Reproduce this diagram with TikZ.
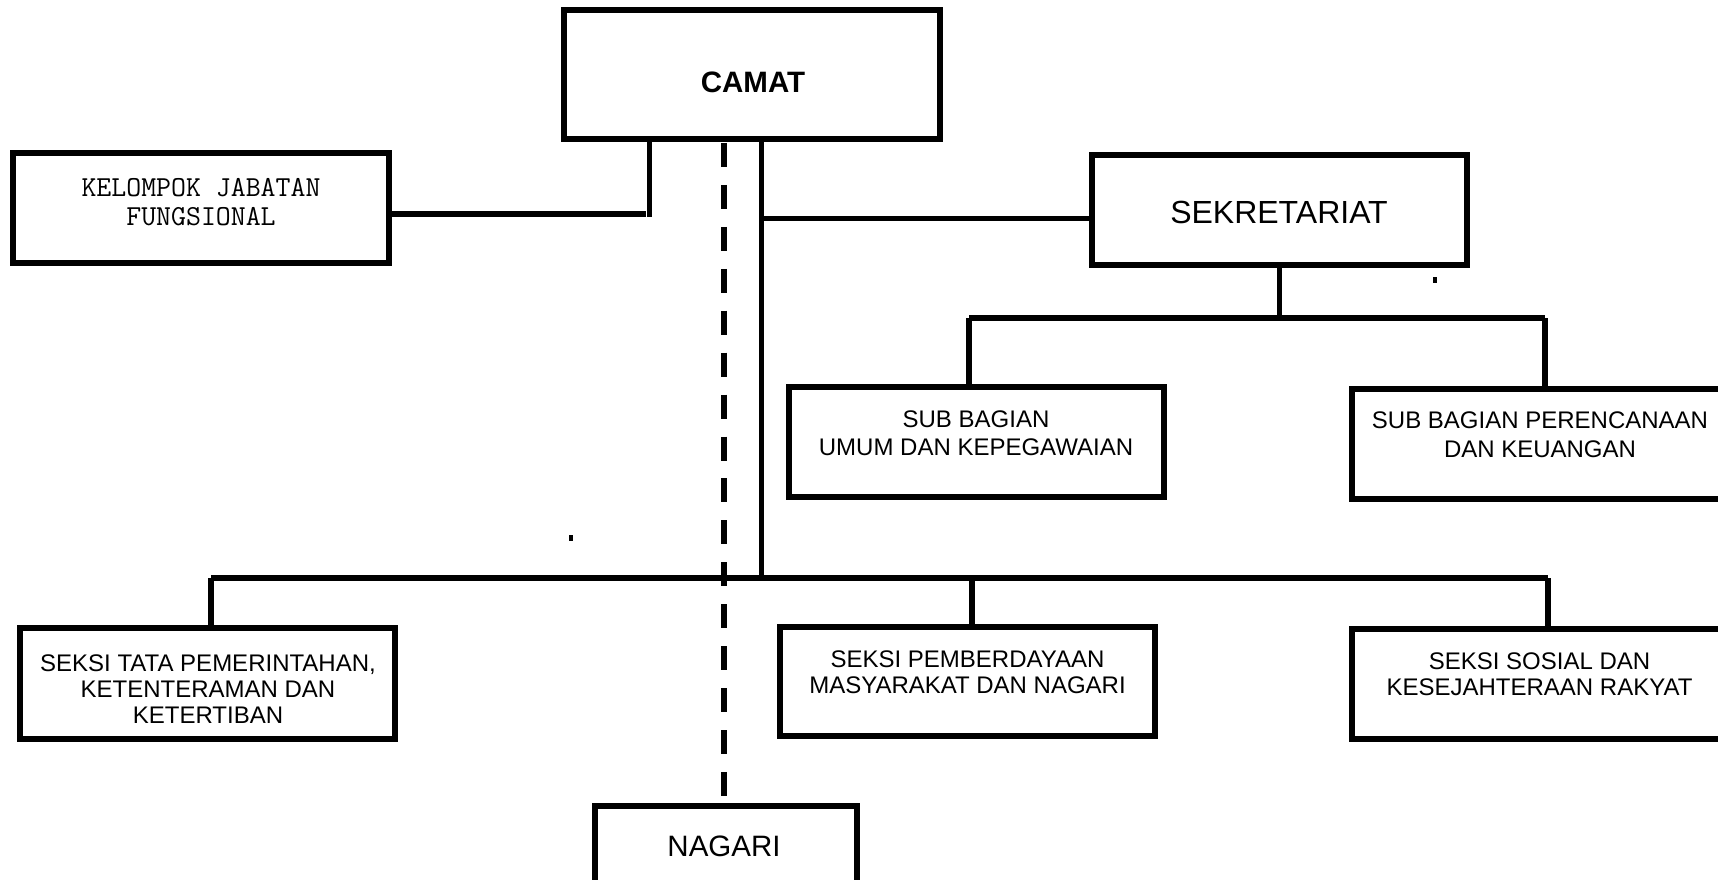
\documentclass[tikz,border=0pt]{standalone}
\usepackage{fontspec}
\setmainfont{Liberation Sans}
\begin{document}
\begin{tikzpicture}[x=1pt,y=-1pt,
  box/.style={draw,line width=6pt,rectangle,inner sep=0pt},
  txt/.style={align=center,inner sep=0pt,font=\fontsize{24}{28}\selectfont},
  conn/.style={line width=5.5pt},
  thin/.style={line width=5pt},
  busline/.style={line width=6.5pt},
  dashline/.style={line width=6pt,dash pattern=on 24pt off 17.93pt}]
\clip (0,0) rectangle (1718,880);
\fill[white] (0,0) rectangle (1718,880);
% boxes
\node[box,minimum width=376pt,minimum height=129pt] (camat) at (752,74.5) {};
\node[box,minimum width=376pt,minimum height=110pt] (kel) at (201,208) {};
\node[box,minimum width=375pt,minimum height=110pt] (sek) at (1279.5,210) {};
\node[box,minimum width=375pt,minimum height=110pt] (sbu) at (976.5,442) {};
\node[box,minimum width=376pt,minimum height=110pt] (sbp) at (1540,444) {};
\node[box,minimum width=375pt,minimum height=111pt] (tata) at (207.5,683.5) {};
\node[box,minimum width=375pt,minimum height=109pt] (pemb) at (967.5,681.5) {};
\node[box,minimum width=376pt,minimum height=110pt] (sos) at (1540,684) {};
\node[box,minimum width=262pt,minimum height=90pt] (nag) at (725.5,851) {};
% texts
\node[txt,font=\bfseries\fontsize{29.5}{34}\selectfont] (tcamat) at (753,82) {CAMAT};
\node[txt,font=\ttfamily\fontsize{29}{29.5}\selectfont] (tkel) at (201,202) {KELOMPOK JABATAN\\FUNGSIONAL};
\node[txt,font=\fontsize{32}{36}\selectfont] (tsek) at (1279,212.5) {SEKRETARIAT};
\node[txt,font=\fontsize{24}{28.5}\selectfont] (tsbu) at (976,433) {SUB BAGIAN\\UMUM DAN KEPEGAWAIAN};
\node[txt,font=\fontsize{24}{28.5}\selectfont] (tsbp) at (1540,434.5) {SUB BAGIAN PERENCANAAN\\DAN KEUANGAN};
\node[txt,font=\fontsize{24}{26}\selectfont] (ttata) at (208,689) {SEKSI TATA PEMERINTAHAN,\\KETENTERAMAN DAN\\KETERTIBAN};
\node[txt,font=\fontsize{24}{26}\selectfont] (tpemb) at (967.5,672) {SEKSI PEMBERDAYAAN\\MASYARAKAT DAN NAGARI};
\node[txt,font=\fontsize{24}{26}\selectfont] (tsos) at (1539.5,674) {SEKSI SOSIAL DAN\\KESEJAHTERAAN RAKYAT};
\node[txt,font=\fontsize{29.5}{34}\selectfont] (tnag) at (724,846) {NAGARI};
% junction coordinates
\coordinate (kj) at (649,214);
\coordinate (kh) at (646,214);
\coordinate (tr) at (761,218.5);
\coordinate (bus) at (761,578);
\coordinate (sj) at (1279.5,318);
\coordinate (s1) at (969,318);
\coordinate (s2) at (1545,318);
\coordinate (b1) at (211,578);
\coordinate (b2) at (972,578);
\coordinate (b3) at (1548,578);
\coordinate (dtop) at (724,143);
\coordinate (dbot) at (724,797);
% connectors
\draw[thin] (kj |- camat.south) -- ([yshift=-3pt]kj);
\draw[conn] (kh) -- (kh -| kel.east);
\draw[dashline] (dtop) -- (dbot);
\draw[thin] (bus |- camat.south) -- (bus);
\draw[conn] (tr) -- (tr -| sek.west);
\draw[conn] (sek.south) -- (sj);
\draw[busline] (s1) -- (s2);
\draw[conn] (s1) -- (s1 |- sbu.north);
\draw[conn] (s2) -- (s2 |- sbp.north);
\draw[busline] (b1) -- (b3);
\draw[conn] (b1) -- (b1 |- tata.north);
\draw[conn] (b2) -- (b2 |- pemb.north);
\draw[conn] (b3) -- (b3 |- sos.north);
% stray marks
\fill (569,535) rectangle (573,541);
\fill (1433,277) rectangle (1437,283);
\end{tikzpicture}
\end{document}
